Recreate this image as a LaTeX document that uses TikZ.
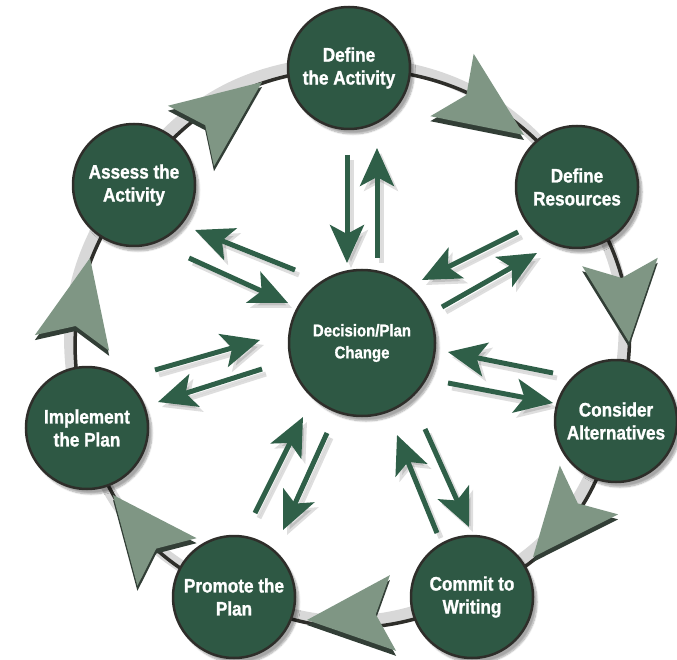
\documentclass[tikz,border=0pt]{standalone}
\usepackage{fontspec}
\newfontfamily\lblfont{Liberation Sans}[FakeStretch=0.88, FakeBold=1.2]
\usetikzlibrary{arrows.meta,calc,backgrounds,shadows.blur}

\definecolor{stagegreen}{HTML}{2E5844}
\definecolor{flowgreen}{HTML}{2F5F48}
\definecolor{headgray}{HTML}{7F9684}
\definecolor{headshade}{HTML}{323E36}
\definecolor{ringdark}{HTML}{2E2E2A}
\definecolor{bandgray}{HTML}{D8D8D8}

\tikzset{
  stage/.style={circle, minimum size=122pt, inner sep=0pt, fill=stagegreen,
    draw=ringdark, line width=2.5pt, text=white, align=center,
    font=\lblfont\bfseries\fontsize{19.5}{23}\selectfont,
    blur shadow={shadow xshift=4pt, shadow yshift=-5pt, shadow blur steps=8, shadow opacity=35}},
  hub/.style={stage, minimum size=146pt, font=\lblfont\bfseries\fontsize{17}{22}\selectfont},
  ring/.style={line width=3.5pt, draw=ringdark},
  band/.style={line width=12pt, draw=bandgray, transform canvas={xshift=-5pt, yshift=6pt}},
  flow/.style={line width=5pt, draw=flowgreen, fill=flowgreen,
    -{Stealth[length=38pt, width=34pt, inset=9pt]}},
  flowshade/.style={flow, draw=black, fill=black, opacity=0.13,
    transform canvas={xshift=4pt, yshift=-5pt}}
}

% big arrowhead on the ring: #1 = tip, #2 = middle of the back
\newcommand\ringhead[2]{%
  \fill[headshade, transform canvas={yshift=-5pt}] (#1) -- ($(#2)!38pt!90:(#1)$)
    -- ($(#2)!0.2!(#1)$) -- ($(#2)!38pt!-90:(#1)$) -- cycle;
  \fill[headgray] (#1) -- ($(#2)!38pt!90:(#1)$)
    -- ($(#2)!0.2!(#1)$) -- ($(#2)!38pt!-90:(#1)$) -- cycle;}

\begin{document}
\begin{tikzpicture}[x=1pt, y=-1pt]
  \useasboundingbox (0,0) rectangle (677,660);

  % stages
  \node[hub] (plan) at (362,343) {Decision/Plan\\Change};
  \node[stage] (act) at (349,68) {Define\\the Activity};
  \node[stage] (res) at (577,187) {Define\\Resources};
  \node[stage] (alt) at (616,421) {Consider\\Alternatives};
  \node[stage] (wri) at (472,597) {Commit to\\Writing};
  \node[stage] (pro) at (234,597) {Promote the\\Plan};
  \node[stage] (imp) at (87,428) {Implement\\the Plan};
  \node[stage] (ass) at (134,185) {Assess the\\Activity};

  % outer cycle
  \begin{pgfonlayer}{background}
    \foreach \a/\b in {ass/act, act/res, res/alt, alt/wri, wri/pro, pro/imp, imp/ass}
      \draw[band] (\a.center) to[bend left=26] (\b.center);
    \foreach \a/\b in {ass/act, act/res, res/alt, alt/wri, wri/pro, pro/imp, imp/ass}
      \draw[ring] (\a.center) to[bend left=26] (\b.center);
    \ringhead{262,82}{191,136}
    \ringhead{524,135}{452,85}
    \ringhead{629,342}{620,262}
    \ringhead{533,557}{589,490}
    \ringhead{307,620}{393,613}
    \ringhead{113,495}{167,562}
    \ringhead{90,258}{72,343}
  \end{pgfonlayer}

  % arrows to and from the hub
  \foreach \n/\s/\t in {1/{347,155}/{347,263}, 2/{377,258}/{377,148},
      3/{295,270}/{195,230}, 4/{189,258}/{288,303},
      5/{518,232}/{422,280}, 6/{442,307}/{537,253},
      7/{553,373}/{448,352}, 8/{448,383}/{553,403},
      9/{437,533}/{397,435}, 10/{425,429}/{469,527},
      11/{255,513}/{303,417}, 12/{327,433}/{283,530},
      13/{155,370}/{260,340}, 14/{262,369}/{158,402}} {
    \coordinate (s\n) at (\s);
    \coordinate (t\n) at (\t);
    \draw[flowshade] (s\n) -- (t\n);
    \draw[flow] (s\n) -- (t\n);
  }
\end{tikzpicture}
\end{document}
